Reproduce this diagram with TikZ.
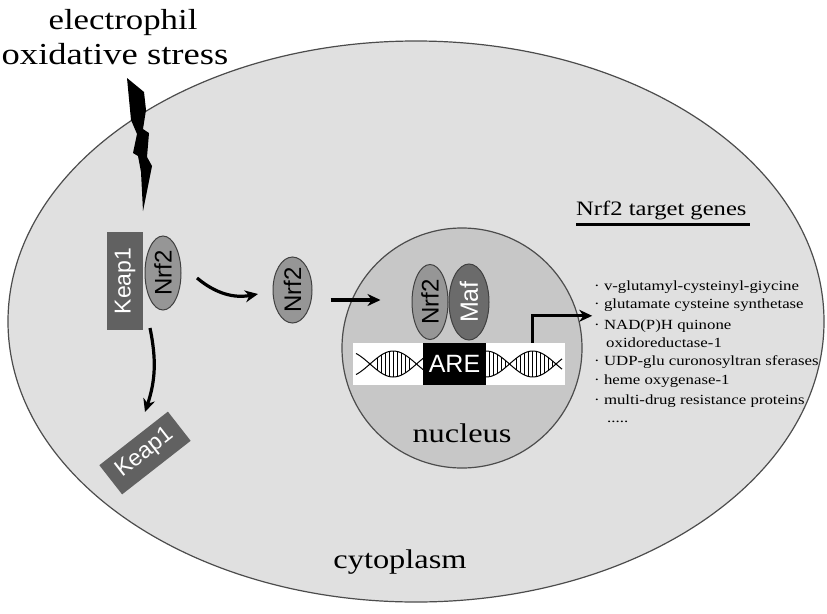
\documentclass[tikz,border=0pt]{standalone}
\usepackage{graphicx}
\usepackage{fontspec}
\setmainfont{Liberation Serif}
\setsansfont{Liberation Sans}
\usetikzlibrary{shapes.geometric,arrows.meta}
\newcommand\widetxt[1]{\scalebox{1.2}[1]{#1}}

\begin{document}
\begin{tikzpicture}
  [x=1pt,y=-1pt,
   prot/.style={ellipse,draw=black!75,line width=1pt,fill=black!41,rotate=90,inner sep=0pt,font=\sffamily\fontsize{24}{24}\selectfont},
   box/.style={rectangle,fill=black!62,text=white,inner sep=0pt,font=\sffamily\fontsize{23}{23}\selectfont},
   arr/.style={-{Stealth[length=13pt,width=12pt]},line width=3.2pt},
   big/.style={anchor=base,inner sep=0pt,font=\fontsize{27}{27}\selectfont},
   gene/.style={anchor=base west,inner sep=0pt,font=\fontsize{14}{14}\selectfont}]
  \useasboundingbox (0,0) rectangle (827,613);
  \fill[white] (0,0) rectangle (827,613);
  % cell and nucleus
  \node[ellipse,draw=black!70,line width=1.2pt,fill=black!12,inner sep=0pt,
    minimum width=816pt,minimum height=561pt] (cell) at (416,321.5) {};
  \node[circle,draw=black!70,line width=1.2pt,fill=black!22,inner sep=0pt,
    minimum size=240pt] (nucleus) at (462,348) {};
  % stress
  \node[big,font=\fontsize{29}{29}\selectfont] (elec) at (123,29) {\widetxt{electrophil}};
  \node[big,font=\fontsize{30.5}{30}\selectfont] (oxid) at (115,64) {\widetxt{oxidative stress}};
  \fill (127,78) -- (144,92) -- (146,110) -- (143,129) -- (149,133) -- (147,157)
    -- (152,166) -- (143,211) -- (141,172) -- (138,156) -- (133,153) -- (137,134)
    -- (131,120) -- cycle;
  % cytoplasm
  \node[box,rotate=90,minimum width=98pt,minimum height=36pt] (keap) at (125,281) {Keap1};
  \node[prot,minimum width=74pt,minimum height=36pt] (kn) at (163,273) {Nrf2};
  \node[prot,minimum width=66pt,minimum height=39pt] (nrf) at (292.5,290) {Nrf2};
  \node[box,rotate=38,minimum width=87pt,minimum height=37pt] (kfree) at (145,453) {Keap1};
  \node[big] (cyto) at (400,568) {\widetxt{cytoplasm}};
  % nucleus
  \node[fill=white,inner sep=0pt,minimum width=212pt,minimum height=42pt] (dna) at (459,364) {};
  \draw[line width=1pt] plot[domain=356:562,samples=90] (\x,{364+13*sin((\x-370)*3.871)});
  \draw[line width=1pt] plot[domain=356:562,samples=90] (\x,{364-13*sin((\x-370)*3.871)});
  \foreach \r in {377,381,...,409,489,493,...,505,516,520,...,552}
    \draw[line width=.7pt] (\r,{364+13*sin((\r-370)*3.871)}) -- (\r,{364-13*sin((\r-370)*3.871)});
  \node[box,fill=black,minimum width=63pt,minimum height=42pt,font=\sffamily\fontsize{25}{25}\selectfont] (are) at (454.5,364) {ARE};
  \node[prot,minimum width=75pt,minimum height=36pt] (nn) at (430,302) {Nrf2};
  \node[prot,fill=black!58,text=white,minimum width=76pt,minimum height=40pt,font=\sffamily\fontsize{25}{25}\selectfont] (maf) at (469,302) {Maf};
  \node[big] (nuclab) at (462,442) {\widetxt{nucleus}};
  % arrows
  \draw[arr] (kn) ++(34,5) to[bend right=25] ++(61,16);
  \draw[arr] (nrf) ++(38,10) -- ++(50,0);
  \draw[arr] (keap) ++(25,47) to[bend left=15] ++(-5,84);
  \draw[arr] (dna.north east) ++(-33,0) |- ++(60,-27);
  % target genes
  \node[anchor=base west,inner sep=0pt,font=\fontsize{20.5}{21}\selectfont] (targ) at (576,215) {\widetxt{Nrf2 target genes}};
  \draw[line width=3pt] (targ.base west) ++(0,9) -- ++(174,0);
  \foreach \x/\y/\t in {594/290/{· v-glutamyl-cysteinyl-giycine},
                        594/308/{· glutamate cysteine synthetase},
                        594/329/{· NAD(P)H quinone},
                        606/347/{oxidoreductase-1},
                        594/365/{· UDP-glu curonosyltran sferases},
                        594/384/{· heme oxygenase-1},
                        594/404/{· multi-drug resistance proteins},
                        607/422/{\hbox{.....}}}
    \node[gene] (g\y) at (\x,\y) {\widetxt{\t}};
\end{tikzpicture}
\end{document}
